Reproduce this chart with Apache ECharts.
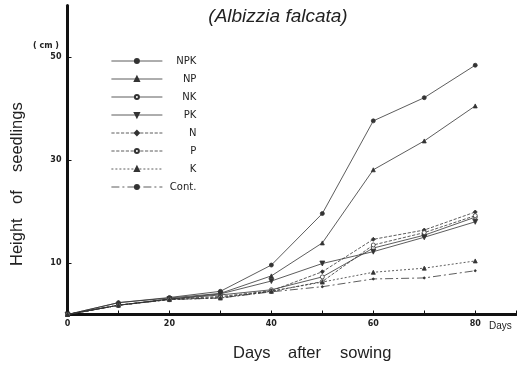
<!DOCTYPE html>
<html>
<head>
<meta charset="utf-8">
<script src="https://cdn.jsdelivr.net/npm/echarts@6/dist/echarts.min.js"></script>
<style>
  html, body { margin: 0; padding: 0; background: #fff; }
  #chart { width: 517px; height: 369px; }
</style>
</head>
<body>
<div id="chart"></div>
<script>
// days after sowing
const days = [0, 10, 20, 30, 40, 50, 60, 70, 80];

// seedling height (cm)
const npk  = [0, 2.3, 3.3, 4.5, 9.6, 19.6, 37.6, 42.1, 48.4];
const np   = [0, 2.3, 3.2, 4.1, 7.5, 13.9, 28.1, 33.7, 40.5];
const nk   = [0, 1.8, 3.0, 3.8, 4.8, 7.3, 12.9, 15.4, 18.9];
const pk   = [0, 1.8, 3.0, 4.0, 6.5, 9.9, 12.2, 15.0, 18.0];
const nOnly = [0, 1.8, 3.0, 3.5, 4.6, 8.3, 14.6, 16.4, 19.9];
const pOnly = [0, 1.8, 2.9, 3.3, 4.5, 6.4, 13.5, 15.9, 19.2];
const kOnly = [0, 1.8, 2.9, 3.2, 4.5, 6.3, 8.2, 9.0, 10.4];
const cont = [0, 1.8, 2.9, 3.2, 4.4, 5.4, 6.9, 7.1, 8.5];

const xTickLabels = [0, 20, 40, 60, 80];
const yTickLabels = [10, 30, 50];

const ink = "#333";
const titleFont = "16.5px 'Liberation Sans'";

function pairs(vals) {
  return days.map((d, i) => [d, vals[i]]);
}

function makeSeries(name, vals, symbol, filled, lineType, size) {
  return {
    name: name,
    type: "line",
    data: pairs(vals),
    symbol: symbol,
    symbolSize: size || 4,
    showAllSymbol: true,
    lineStyle: { color: ink, width: 0.8, type: lineType },
    itemStyle: { color: filled ? ink : "#fff", borderColor: ink, borderWidth: 0.8 },
    emphasis: { disabled: true },
    animation: false,
  };
}

// words of the axis titles are placed one by one, the print spaces them wide
function word(text, x, y, rotated) {
  return {
    type: "text",
    x: x,
    y: y,
    rotation: rotated ? Math.PI / 2 : 0,
    style: { text: text, font: titleFont, fill: "#222", align: "left", verticalAlign: rotated ? "middle" : "top" },
  };
}

const chart = echarts.init(document.getElementById("chart"));

chart.setOption({
  backgroundColor: "#fff",
  animation: false,
  title: {
    text: "(Albizzia falcata)",
    left: 273,
    top: 2,
    textAlign: "center",
    textStyle: { fontFamily: "Liberation Sans", fontStyle: "italic", fontWeight: "normal", fontSize: 19, color: "#222" },
  },
  legend: {
    orient: "vertical",
    left: 106,
    top: 51,
    itemWidth: 51,
    itemHeight: 5,
    itemGap: 8,
    lineStyle: { width: 0.8 },
    formatter: name => "{r|" + name + "}",
    textStyle: {
      fontFamily: "DejaVu Sans",
      fontSize: 10,
      color: "#222",
      rich: { r: { width: 29, align: "right", fontSize: 10, fontFamily: "DejaVu Sans" } },
    },
    data: ["NPK", "NP", "NK", "PK", "N", "P", "K", "Cont."],
  },
  grid: { left: 67.5, right: 1, top: 5.5, bottom: 54.5 },
  xAxis: {
    type: "value",
    min: 0,
    max: 88,
    interval: 10,
    splitLine: { show: false },
    axisLine: { lineStyle: { color: "#111", width: 3 } },
    axisTick: { inside: true, length: 4, lineStyle: { color: "#111", width: 1 } },
    axisLabel: {
      customValues: xTickLabels,
      fontFamily: "DejaVu Sans",
      fontWeight: "bold",
      fontSize: 8,
      color: "#222",
      margin: 5,
    },
  },
  yAxis: {
    type: "value",
    min: 0,
    max: 60,
    interval: 10,
    splitLine: { show: false },
    axisLine: { onZero: false, lineStyle: { color: "#111", width: 3 } },
    axisTick: { customValues: yTickLabels, inside: true, length: 4, lineStyle: { color: "#111", width: 1 } },
    axisLabel: {
      customValues: yTickLabels,
      fontFamily: "DejaVu Sans",
      fontWeight: "bold",
      fontSize: 8,
      color: "#222",
      margin: 6,
    },
  },
  graphic: [
    word("Height", 17, 266, true),
    word("of", 17, 204, true),
    word("seedlings", 17, 172, true),
    {
      type: "text",
      left: 33,
      top: 42,
      style: { text: "( cm )", font: "bold 8px 'DejaVu Sans'", fill: "#222" },
    },
    {
      type: "text",
      left: 489,
      top: 321,
      style: { text: "Days", font: "10px 'Liberation Sans'", fill: "#222" },
    },
    word("Days", 233, 345, false),
    word("after", 288, 345, false),
    word("sowing", 340, 345, false),
  ],
  series: [
    makeSeries("NPK", npk, "circle", true, "solid", 4),
    makeSeries("NP", np, "triangle", true, "solid", 4),
    makeSeries("NK", nk, "circle", false, "solid", 4),
    makeSeries("PK", pk, "path://M0,0 L10,0 L5,9 Z", true, "solid", 5),
    makeSeries("N", nOnly, "diamond", true, "dashed", 4),
    makeSeries("P", pOnly, "circle", false, "dashed", 4),
    makeSeries("K", kOnly, "triangle", true, [2, 2], 4),
    makeSeries("Cont.", cont, "circle", true, [8, 3, 2, 3], 2),
  ],
});
</script>
</body>
</html>
